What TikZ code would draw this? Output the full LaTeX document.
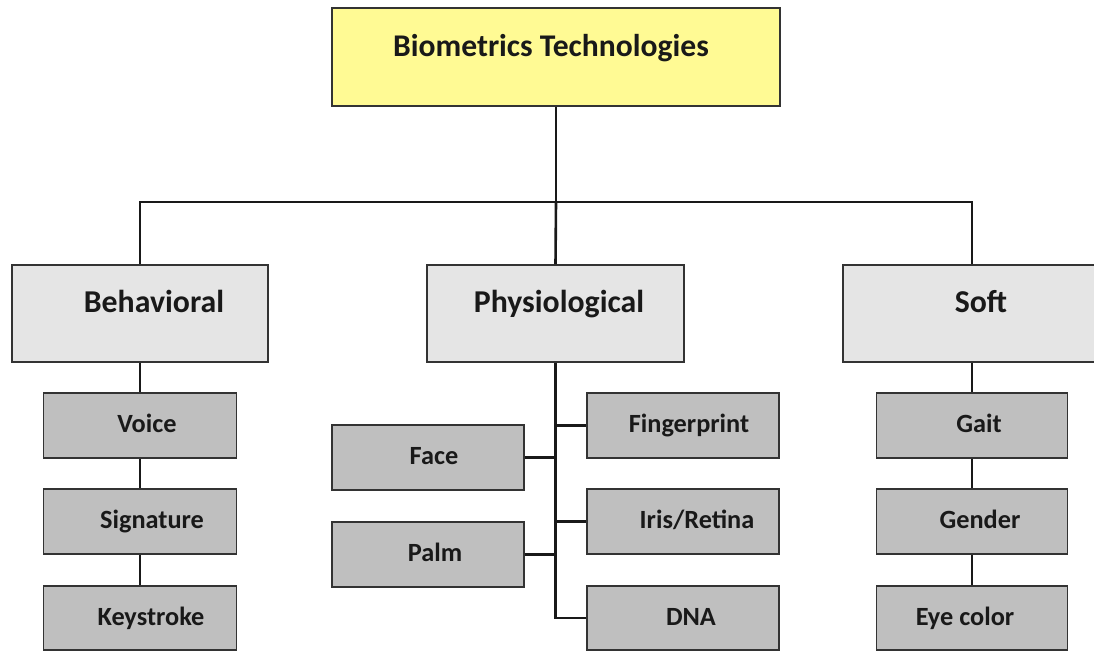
\documentclass[tikz,border=0pt]{standalone}
\usepackage{fontspec}
\setmainfont{Carlito}
\begin{document}
\begin{tikzpicture}[x=1pt,y=-1pt,
  box/.style={draw=black!80,line width=1.8pt,inner sep=0pt,rectangle},
  rootbox/.style={box,fill=yellow!42!white,minimum width=448pt,minimum height=98pt},
  catbox/.style={box,fill=black!10,minimum width=257pt,minimum height=97pt},
  leafbox/.style={box,fill=black!25,minimum width=193pt,minimum height=65pt},
  lastbox/.style={leafbox,minimum height=64pt},
  word/.style={inner sep=0pt,anchor=base,text=black!90},
  rootword/.style={word,font=\fontsize{31.6}{36}\selectfont\bfseries},
  catword/.style={word,font=\fontsize{31.8}{36}\selectfont\bfseries},
  leafword/.style={word,font=\fontsize{26.3}{30}\selectfont\bfseries},
  link/.style={draw=black!90,line width=2.6pt}]
\useasboundingbox (0,0) rectangle (1094,650);
\clip (0,0) rectangle (1094,650);

% root
\node[rootbox] (top) at (556,57) {};
\node[rootword] (topT) at (551,56.5) {Biometrics Technologies};

% categories
\node[catbox,minimum width=256pt] (beh) at (140,313.5) {};
\node[catbox] (phy) at (555.5,313.5) {};
\node[catbox,minimum width=258pt] (soft) at (972,313.5) {};
\node[catword] (behT) at (154,312) {Behavioral};
\node[catword] (phyT) at (559,312) {Physiological};
\node[catword] (softT) at (981,312) {Soft};

% bus linking root to categories
\coordinate (bus) at (556,202);
\draw[link] (top.south) -- (top.south |- bus);
\draw[link] (beh.north) -- (beh.north |- bus) -- (soft.north |- bus) -- (soft.north);
\draw[link] (top.south |- bus) -- (phy.north);

% behavioral chain
\node[leafbox] (voice) at (140,425.5) {};
\node[leafbox] (sign) at (140,521.5) {};
\node[lastbox] (key) at (140,618) {};
\node[leafword] (voiceT) at (147,432.5) {Voice};
\node[leafword] (signT) at (152,528.5) {Signature};
\node[leafword] (keyT) at (151,625) {Keystroke};
\draw[link] (beh.south) -- (voice.north);
\draw[link] (voice.south) -- (sign.north);
\draw[link] (sign.south) -- (key.north);

% physiological tree
\node[leafbox,minimum width=192pt] (finger) at (683,425.5) {};
\node[leafbox,minimum width=192pt] (face) at (428,457.5) {};
\node[leafbox,minimum width=192pt] (iris) at (683,521.5) {};
\node[leafbox,minimum width=192pt] (palm) at (428,554.5) {};
\node[lastbox,minimum width=192pt] (dna) at (683,618) {};
\node[leafword] (fingerT) at (689,432.5) {Fingerprint};
\node[leafword] (faceT) at (434,464.5) {Face};
\node[leafword] (irisT) at (697,528.5) {Iris/Retina};
\node[leafword] (palmT) at (435,561) {Palm};
\node[leafword] (dnaT) at (691,625) {DNA};
\draw[link] (phy.south) |- (dna.west);
\draw[link] (finger.west) -- (finger.west -| phy.south);
\draw[link] (iris.west) -- (iris.west -| phy.south);
\draw[link] (face.east) -- (face.east -| phy.south);
\draw[link] (palm.east) -- (palm.east -| phy.south);

% soft chain
\node[leafbox,minimum width=191pt] (gait) at (972,425.5) {};
\node[leafbox,minimum width=191pt] (gender) at (972,521.5) {};
\node[lastbox,minimum width=191pt] (eye) at (972,618) {};
\node[leafword] (gaitT) at (979,432.5) {Gait};
\node[leafword] (genderT) at (980,528.5) {Gender};
\node[leafword] (eyeT) at (965,625) {Eye color};
\draw[link] (soft.south) -- (gait.north);
\draw[link] (gait.south) -- (gender.north);
\draw[link] (gender.south) -- (eye.north);
\end{tikzpicture}
\end{document}
